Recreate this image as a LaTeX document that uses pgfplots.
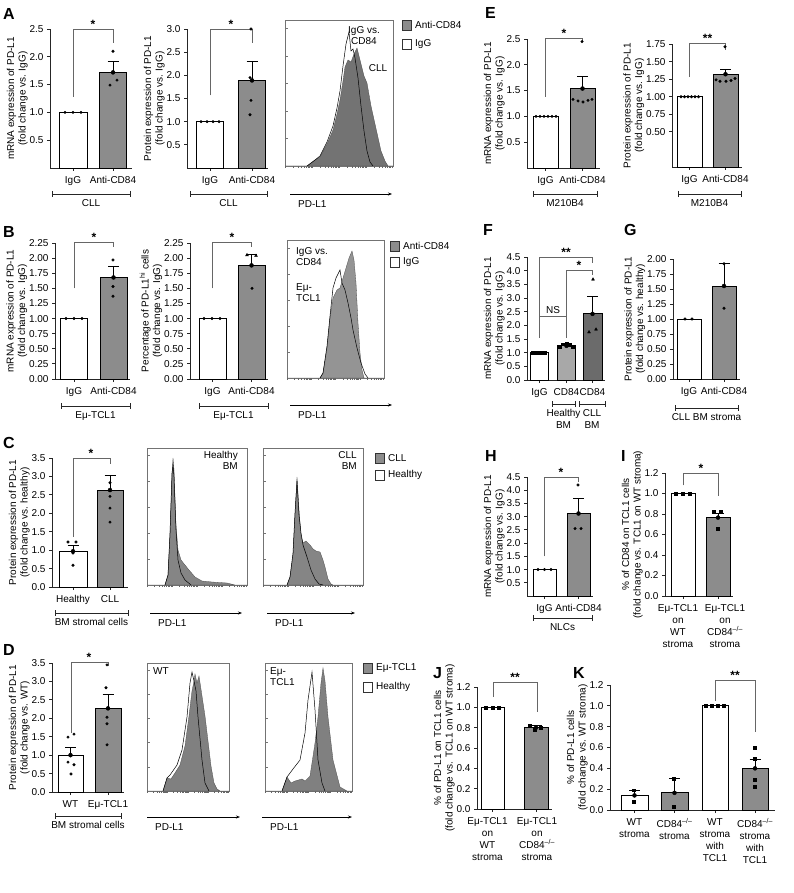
\documentclass[border=0pt]{standalone}
\usepackage{pgfplots}
\pgfplotsset{compat=1.18}
\usetikzlibrary{arrows.meta}
\usepackage{fontspec}
\setmainfont{Liberation Sans}
\newcommand{\fs}{\fontsize{10}{11.5}\selectfont}
\newcommand{\fsx}{\fontsize{10}{12}\selectfont}
\newcommand{\fl}{\bfseries\fontsize{16}{16}\selectfont}
\definecolor{barg}{gray}{0.55}
\definecolor{barl}{gray}{0.66}
\definecolor{bard}{gray}{0.42}
\definecolor{histA}{gray}{0.45}
\definecolor{histB}{gray}{0.58}
\definecolor{histC}{gray}{0.52}
\definecolor{histD}{gray}{0.50}
\tikzset{
  brk/.style={line width=0.6pt, black!60},
  star/.style={anchor=south, inner sep=0.5pt, font=\bfseries\fontsize{12}{12}\selectfont},
}
\pgfplotsset{
  prism/.style={
    scale only axis, clip=false, anchor=south west,
    axis x line*=bottom, axis y line*=left,
    axis line style={line width=0.8pt, black!85, -},
    tick style={line width=0.8pt, black!85},
    major tick length=3pt, tick align=outside,
    ymin=0,
    tick label style={font=\fs},
    label style={font=\fs},
    ylabel style={align=center},
    ylabel shift=-5pt,
    xticklabel style={align=center, yshift=-2pt, font=\fsx},
    scaled y ticks=false,
  },
  p1/.style={yticklabel style={/pgf/number format/.cd, fixed, fixed zerofill, precision=1, assume math mode=true}},
  p2/.style={yticklabel style={/pgf/number format/.cd, fixed, fixed zerofill, precision=2, assume math mode=true}},
  wbar/.style={ybar, fill=white, draw=black, line width=0.9pt},
  gbar/.style={ybar, fill=barg, draw=black, line width=0.9pt},
  eb/.style={only marks, mark=none, error bars/.cd, y dir=plus, y explicit,
     error bar style={line width=0.9pt, black},
     error mark options={rotate=90, mark size=5.5pt, line width=0.9pt, black}},
  pts/.style={only marks, mark=*, mark size=1.3pt, black},
  sqs/.style={only marks, mark=square*, mark size=1.4pt, black},
  tri/.style={only marks, mark=triangle*, mark size=1.7pt, black},
}
\newcommand{\histo}[7]{%
  \begin{axis}[scale only axis, at={(#1pt,-#2pt)}, anchor=north west, width=#3pt, height=#4pt,
     xmin=0, xmax=#3, ymin=0, ymax=#4, xtick=\empty, ytick=\empty,
     axis line style={black!55, line width=0.6pt}]
    \addplot[fill=#5, draw=black!70, line width=0.3pt] coordinates {#6} \closedcycle;
    \addplot[draw=black, line width=0.5pt, mark=none] coordinates {#7};
  \end{axis}
  \foreach \k in {0,...,5} {\draw[black!55, line width=0.6pt] ({#1pt},{-#2pt-#4pt+\k*#4pt/5.3}) -- ++(3pt,0);}
  \foreach \d in {0,1,2,3} {\foreach \f in {0,0.301,0.477,0.602,0.699,0.778,0.845,0.903,0.954} {\draw[black!60, line width=0.5pt] ({#1pt+(\d+\f)*#3pt/4},{-#2pt-#4pt}) -- ++(0,-2.2pt);}}
}
\newcommand{\cat}[4]{%
  \draw[line width=0.7pt, black!85] (#1,-#3) -- (#2,-#3) (#1,-#3+3) -- (#1,-#3-3) (#2,-#3+3) -- (#2,-#3-3);
  \node[font=\fsx, anchor=north, inner sep=0pt, align=center] at ({(#1+#2)/2},-#3-5) {#4};}
\newcommand{\pdl}[3]{%
  \draw[-{Stealth[length=4pt,width=3pt]}, line width=0.6pt] (#1,-#3) -- (#2,-#3);
  \node[font=\fs, anchor=north west, inner sep=0pt] at (#1+8,-#3-6) {PD-L1};}
\newcommand{\legsq}[4]{%
  \draw[black!80, line width=0.6pt, fill=#3] (#1,-#2) rectangle (#1+9,-#2-10);
  \node[font=\fs, anchor=west, inner sep=0pt] at (#1+13,-#2-5) {#4};}
\begin{document}
\begin{tikzpicture}[x=1pt,y=1pt]
\path[use as bounding box] (0,0) rectangle (793,-893);
% panel letters
\node[font=\fl, anchor=west, inner sep=0pt] at (3,-14) {A};
\node[font=\fl, anchor=west, inner sep=0pt] at (485,-13) {E};
\node[font=\fl, anchor=west, inner sep=0pt] at (3,-232) {B};
\node[font=\fl, anchor=west, inner sep=0pt] at (483,-230) {F};
\node[font=\fl, anchor=west, inner sep=0pt] at (624,-230) {G};
\node[font=\fl, anchor=west, inner sep=0pt] at (3,-443) {C};
\node[font=\fl, anchor=west, inner sep=0pt] at (485,-456) {H};
\node[font=\fl, anchor=west, inner sep=0pt] at (621,-456) {I};
\node[font=\fl, anchor=west, inner sep=0pt] at (3,-650) {D};
\node[font=\fl, anchor=west, inner sep=0pt] at (433,-673) {J};
\node[font=\fl, anchor=west, inner sep=0pt] at (573,-673) {K};

% ---------- A1
\begin{axis}[prism,p1, at={(50pt,-168pt)}, width=82pt, height=139pt, xmin=50, xmax=132, ymax=2.5,
  ytick={0.5,1,1.5,2,2.5}, xtick={73,113}, xticklabels={IgG,Anti-CD84},
  ylabel={mRNA expression of PD-L1\\(fold change vs. IgG)}]
\addplot[wbar, bar width=28] coordinates {(73,1)};
\addplot[gbar, bar width=27] coordinates {(113,1.72)};
\addplot[eb] coordinates {(113,1.72) +- (0,0.19)};
\addplot[pts] coordinates {(65,1) (73,1) (81,1) (113,2.10) (117,1.58) (110,1.49)};
\draw[brk] (axis cs:73,1.28) -- (axis cs:73,2.5) -- (axis cs:113,2.5) -- (axis cs:113,2.25);
\node[star] at (axis cs:93,2.5) {*};
\end{axis}
% ---------- A2
\begin{axis}[prism,p1, at={(187pt,-168pt)}, width=81pt, height=139pt, xmin=187, xmax=268, ymax=3.0,
  ytick={0.5,1,1.5,2,2.5,3}, xtick={210,252}, xticklabels={IgG,Anti-CD84},
  ylabel={Protein expression of PD-L1\\(fold change vs. IgG)}]
\addplot[wbar, bar width=27] coordinates {(210,1)};
\addplot[gbar, bar width=27] coordinates {(252,1.89)};
\addplot[eb] coordinates {(252,1.89) +- (0,0.40)};
\addplot[pts] coordinates {(201,1) (207,1) (213,1) (219,1) (251,3.0) (250,1.95) (251,1.46) (250,1.15)};
\draw[brk] (axis cs:210,1.57) -- (axis cs:210,3.0) -- (axis cs:252,3.0) -- (axis cs:252,2.7);
\node[star] at (axis cs:231,3.0) {*};
\end{axis}
\cat{52}{130}{194}{CLL}
\cat{190}{267}{194}{CLL}
% ---------- A3 histogram
\histo{285}{20}{108}{146}{histA}
 {(0,0) (22,0) (30,6) (35,9) (42,22) (48,36) (52,52) (55,66) (58,85) (60,99) (63,106) (66,104) (69,112) (72,118) (75,106) (79,90) (82,83) (86,60) (92,33) (96,15) (100,5) (103,0) (108,0)}
 {(22,0) (30,6) (35,10) (42,24) (48,40) (52,58) (55,75) (58,100) (61,122) (64,134) (66,115) (68,117) (70,108) (73,88) (76,60) (79,35) (82,15) (85,4) (88,0)}
\node[font=\fs, align=center, anchor=north, inner sep=0pt] at (364,-26) {IgG vs.\\CD84};
\node[font=\fs, inner sep=0pt] at (378,-68) {CLL};
\pdl{290}{392}{194}
\legsq{402}{20}{barg}{Anti-CD84}
\legsq{402}{39}{white}{IgG}

% ---------- E1
\begin{axis}[prism,p1, at={(527pt,-168pt)}, width=73pt, height=129pt, xmin=527, xmax=600, ymax=2.5,
  ytick={0.5,1,1.5,2,2.5}, xtick={545.5,582.5}, xticklabels={IgG,Anti-CD84},
  ylabel={mRNA expression of PD-L1\\(fold change vs. IgG)}]
\addplot[wbar, bar width=25] coordinates {(545.5,1)};
\addplot[gbar, bar width=25] coordinates {(582.5,1.54)};
\addplot[eb] coordinates {(582.5,1.54) +- (0,0.23)};
\addplot[pts] coordinates {(536,1) (540,1) (544,1) (548,1) (552,1) (556,1) (582,2.45) (573,1.33) (578,1.30) (583,1.28) (588,1.31) (592,1.33)};
\draw[brk] (axis cs:545.5,1.38) -- (axis cs:545.5,2.52) -- (axis cs:582.5,2.52) -- (axis cs:582.5,2.46);
\node[star] at (axis cs:564,2.52) {*};
\end{axis}
% ---------- E2
\begin{axis}[prism,p2, at={(672pt,-167pt)}, width=70pt, height=123pt, xmin=672, xmax=742, ymax=1.75,
  ytick={0.5,0.75,1,1.25,1.5,1.75}, xtick={689.5,725.5}, xticklabels={IgG,Anti-CD84},
  ylabel={Protein expression of PD-L1\\(fold change vs. IgG)}]
\addplot[wbar, bar width=25] coordinates {(689.5,1)};
\addplot[gbar, bar width=25] coordinates {(725.5,1.32)};
\addplot[eb] coordinates {(725.5,1.32) +- (0,0.07)};
\addplot[pts] coordinates {(681,1) (684.5,1) (688,1) (691.5,1) (695,1) (698.5,1) (725,1.71) (716,1.24) (720,1.22) (726,1.22) (731,1.23) (735,1.26)};
\draw[brk] (axis cs:689.5,1.28) -- (axis cs:689.5,1.76) -- (axis cs:725.5,1.76) -- (axis cs:725.5,1.66);
\node[star] at (axis cs:707.5,1.76) {**};
\end{axis}
\cat{533}{597}{194}{M210B4}
\cat{678}{741}{194}{M210B4}

% ---------- B1
\begin{axis}[prism,p2, at={(55pt,-379pt)}, width=75pt, height=136pt, xmin=55, xmax=130, ymax=2.25,
  ytick={0,0.25,0.5,0.75,1,1.25,1.5,1.75,2,2.25}, xtick={74,113.5}, xticklabels={IgG,Anti-CD84},
  ylabel={mRNA expression of PD-L1\\(fold change vs. IgG)}]
\addplot[wbar, bar width=27] coordinates {(74,1)};
\addplot[gbar, bar width=27] coordinates {(113.5,1.68)};
\addplot[eb] coordinates {(113.5,1.68) +- (0,0.18)};
\addplot[pts] coordinates {(66,1) (74,1) (82,1) (113,1.97) (113,1.53) (113,1.37)};
\draw[brk] (axis cs:74,1.5) -- (axis cs:74,2.26) -- (axis cs:113.5,2.26) -- (axis cs:113.5,2.18);
\node[star] at (axis cs:94,2.26) {*};
\end{axis}
% ---------- B2
\begin{axis}[prism,p2, at={(190pt,-379pt)}, width=78pt, height=136pt, xmin=190, xmax=268, ymax=2.25,
  ytick={0,0.25,0.5,0.75,1,1.25,1.5,1.75,2,2.25}, xtick={212.5,251.5}, xticklabels={IgG,Anti-CD84},
  ylabel={Percentage of PD-L1\textsuperscript{hi} cells\\(fold change vs. IgG)}]
\addplot[wbar, bar width=27] coordinates {(212.5,1)};
\addplot[gbar, bar width=27] coordinates {(251.5,1.88)};
\addplot[eb] coordinates {(251.5,1.88) +- (0,0.18)};
\addplot[pts] coordinates {(204,1) (212,1) (220,1) (252,1.50)};
\addplot[tri] coordinates {(247,2.05) (256,2.04)};
\draw[brk] (axis cs:212.5,1.5) -- (axis cs:212.5,2.26) -- (axis cs:251.5,2.26) -- (axis cs:251.5,2.18);
\node[star] at (axis cs:232,2.26) {*};
\end{axis}
\cat{61}{130}{406}{Eμ-TCL1}
\cat{199}{268}{406}{Eμ-TCL1}
% ---------- B3 histogram
\histo{287}{240}{97}{138}{histB}
 {(0,0) (33,0) (36,5) (40,30) (43,60) (46,80) (50,88) (53,90) (56,100) (59,110) (62,120) (65,127) (67,118) (69,95) (71,55) (73,25) (75,8) (77,0) (97,0)}
 {(33,0) (36,5) (40,32) (43,62) (46,90) (49,100) (51,104) (53,108) (55,95) (58,88) (61,75) (64,60) (66,48) (70,30) (74,15) (78,4) (81,0)}
\node[font=\fs, align=left, anchor=north west, inner sep=0pt] at (296,-247) {IgG vs.\\CD84};
\node[font=\fs, align=left, anchor=north west, inner sep=0pt] at (296,-283) {Eμ-\\TCL1};
\pdl{290}{392}{405}
\legsq{390}{241}{barg}{Anti-CD84}
\legsq{390}{257}{white}{IgG}

% ---------- F
\begin{axis}[prism,p1, at={(527pt,-380pt)}, width=78pt, height=123pt, xmin=527, xmax=605, ymax=4.5,
  ytick={0,0.5,1,1.5,2,2.5,3,3.5,4,4.5}, xtick={539.5,566.5,592.5}, xticklabels={IgG,CD84,CD84},
  ylabel={mRNA expression of PD-L1\\(fold change vs. IgG)}]
\addplot[wbar, bar width=18] coordinates {(539.5,1)};
\addplot[ybar, fill=barl, draw=black, line width=0.9pt, bar width=18] coordinates {(566.5,1.25)};
\addplot[ybar, fill=bard, draw=black, line width=0.9pt, bar width=19] coordinates {(592.5,2.42)};
\addplot[eb] coordinates {(566.5,1.25) +- (0,0.04) (592.5,2.42) +- (0,0.63)};
\addplot[sqs] coordinates {(533,1) (536,1) (539,1) (542,1) (545,1) (560,1.22) (563,1.31) (567,1.33) (570,1.28) (573,1.22)};
\addplot[tri] coordinates {(593,3.68) (589,1.75) (596,1.85)};
\draw[brk] (axis cs:539.5,1.55) -- (axis cs:539.5,4.5) -- (axis cs:592.5,4.5) -- (axis cs:592.5,4.28);
\draw[brk] (axis cs:566.5,1.55) -- (axis cs:566.5,4.0) -- (axis cs:592.5,4.0) -- (axis cs:592.5,3.83);
\draw[brk] (axis cs:539.5,2.34) -- (axis cs:566.5,2.34);
\node[star] at (axis cs:566,4.5) {**};
\node[star] at (axis cs:579,4.0) {*};
\node[font=\fs, anchor=south, inner sep=2pt] at (axis cs:553,2.34) {NS};
\end{axis}
\cat{552}{575}{404}{Healthy\\BM}
\cat{579}{605}{404}{CLL\\BM}
% ---------- G
\begin{axis}[prism,p2, at={(673pt,-379pt)}, width=67pt, height=120pt, xmin=673, xmax=740, ymax=2.0,
  ytick={0,0.25,0.5,0.75,1,1.25,1.5,1.75,2}, xtick={689,724}, xticklabels={IgG,Anti-CD84},
  ylabel={Protein expression of PD-L1\\(fold change vs. healthy)}]
\addplot[wbar, bar width=24] coordinates {(689,1)};
\addplot[gbar, bar width=24] coordinates {(724,1.55)};
\addplot[eb] coordinates {(724,1.55) +- (0,0.37)};
\addplot[pts] coordinates {(685,1) (692,1) (724,1.92) (724,1.18)};
\end{axis}
\cat{675}{738}{408}{CLL BM stroma}

% ---------- C
\begin{axis}[prism,p1, at={(52pt,-587pt)}, width=76pt, height=129pt, xmin=52, xmax=128, ymax=3.5,
  ytick={0,0.5,1,1.5,2,2.5,3,3.5}, xtick={73,110}, xticklabels={Healthy,CLL},
  ylabel={Protein expression of PD-L1\\(fold change vs. healthy)}]
\addplot[wbar, bar width=28] coordinates {(73,0.97)};
\addplot[gbar, bar width=26] coordinates {(110,2.63)};
\addplot[eb] coordinates {(73,0.97) +- (0,0.15) (110,2.63) +- (0,0.40)};
\addplot[pts] coordinates {(68,1.22) (76,1.22) (73,0.92) (73,0.59) (110,2.83) (110,2.46) (110,2.14) (110,1.76)};
\draw[brk] (axis cs:73,1.35) -- (axis cs:73,3.5) -- (axis cs:110,3.5) -- (axis cs:110,3.35);
\node[star] at (axis cs:91,3.5) {*};
\end{axis}
\cat{55}{128}{613}{BM stromal cells}
\histo{147}{448}{100}{137}{histC}
 {(0,0) (18,0) (21,10) (23,50) (25,110) (26,127) (27,115) (29,60) (31,35) (34,25) (38,20) (42,15) (48,8) (55,4) (65,3) (80,2) (88,0) (100,0)}
 {(18,0) (21,10) (23,52) (25,112) (26,120) (27,108) (29,55) (31,25) (34,12) (38,5) (44,0)}
\node[font=\fs, align=right, anchor=north east, inner sep=0pt] at (238,-451) {Healthy\\BM};
\histo{263}{448}{100}{137}{histC}
 {(0,0) (24,0) (27,8) (30,30) (32,70) (34,108) (36,75) (38,50) (40,42) (43,44) (47,40) (50,36) (53,34) (57,33) (60,25) (62,18) (65,6) (68,1) (70,0) (100,0)}
 {(24,0) (27,8) (30,32) (32,72) (34,104) (36,70) (38,52) (40,40) (44,28) (48,15) (52,6) (56,1) (60,0)}
\node[font=\fs, align=right, anchor=north east, inner sep=0pt] at (357,-451) {CLL\\BM};
\pdl{150}{242}{613}
\pdl{267}{355}{613}
\legsq{375}{453}{barg}{CLL}
\legsq{375}{470}{white}{Healthy}

% ---------- D
\begin{axis}[prism,p1, at={(52pt,-792pt)}, width=72pt, height=129pt, xmin=52, xmax=124, ymax=3.5,
  ytick={0,0.5,1,1.5,2,2.5,3,3.5}, xtick={70.5,108}, xticklabels={WT,Eμ-TCL1},
  ylabel={Protein expression of PD-L1\\(fold change vs. WT)}]
\addplot[wbar, bar width=25] coordinates {(70.5,1.0)};
\addplot[gbar, bar width=26] coordinates {(108,2.27)};
\addplot[eb] coordinates {(70.5,1.0) +- (0,0.21) (108,2.27) +- (0,0.38)};
\addplot[pts] coordinates {(68,1.49) (74,1.57) (68,0.81) (74,0.74) (71,0.49) (107,3.45) (106,2.83) (107,2.03) (107,1.85) (107,1.28)};
\draw[brk] (axis cs:71,1.6) -- (axis cs:71,3.52) -- (axis cs:108,3.52) -- (axis cs:108,3.42);
\node[star] at (axis cs:89,3.52) {*};
\end{axis}
\cat{55}{121}{816}{BM stromal cells}
\histo{147}{663}{82}{128}{histD}
 {(0,0) (16,0) (20,13) (24,12) (28,18) (33,26) (38,45) (42,75) (45,100) (47,110) (48,117) (50,108) (52,115) (55,95) (58,75) (61,50) (64,25) (67,8) (70,2) (73,0) (82,0)}
 {(16,0) (20,13) (23,16) (30,26) (35,41) (40,74) (43,108) (45,119) (47,110) (49,100) (51,74) (55,31) (58,8) (62,0)}
\node[font=\fs, anchor=north west, inner sep=0pt] at (153,-667) {WT};
\histo{265}{663}{87}{128}{histD}
 {(0,0) (17,0) (22,14) (26,8) (30,10) (37,12) (40,10) (45,15) (50,48) (53,74) (56,108) (58,123) (60,110) (63,74) (68,31) (75,4) (82,0) (87,0)}
 {(17,0) (22,14) (25,18) (28,22) (35,31) (40,58) (43,91) (47,119) (50,81) (53,31) (57,8) (60,0)}
\node[font=\fs, align=left, anchor=north west, inner sep=0pt] at (270,-667) {Eμ-\\TCL1};
\pdl{147}{240}{817}
\pdl{262}{352}{817}
\legsq{363}{663}{barg}{Eμ-TCL1}
\legsq{363}{682}{white}{Healthy}

% ---------- H
\begin{axis}[prism,p1, at={(527pt,-596pt)}, width=66pt, height=119pt, xmin=527, xmax=593, ymax=4.5,
  ytick={0.5,1,1.5,2,2.5,3,3.5,4,4.5}, xtick={544.5,578.5}, xticklabels={IgG,Anti-CD84},
  ylabel={mRNA expression of PD-L1\\(fold change vs. IgG)}]
\addplot[wbar, bar width=23] coordinates {(544.5,1)};
\addplot[gbar, bar width=23] coordinates {(578.5,3.12)};
\addplot[eb] coordinates {(578.5,3.12) +- (0,0.56)};
\addplot[pts] coordinates {(538,1) (544.5,1) (551,1) (578,4.2) (575,2.55) (581,2.55)};
\draw[brk] (axis cs:544.5,1.5) -- (axis cs:544.5,4.5) -- (axis cs:578.5,4.5) -- (axis cs:578.5,4.3);
\node[star] at (axis cs:561,4.5) {*};
\end{axis}
\cat{533}{592}{618}{NLCs}

% ---------- I
\begin{axis}[prism,p1, at={(665pt,-596pt)}, width=68pt, height=123pt, xmin=665, xmax=733, ymax=1.2,
  ytick={0,0.2,0.4,0.6,0.8,1.0,1.2}, xtick={683,718},
  xticklabel style={xshift={(\ticknum==0)?-5:7}},
  xticklabels={{Eμ-TCL1\\on\\WT\\stroma},{Eμ-TCL1\\on\\CD84\textsuperscript{–/–}\\stroma}},
  ylabel={\% of CD84 on TCL1 cells\\(fold change vs. TCL1 on WT stroma)}]
\addplot[wbar, bar width=24] coordinates {(683,1)};
\addplot[gbar, bar width=24] coordinates {(718,0.765)};
\addplot[eb] coordinates {(718,0.765) +- (0,0.04)};
\addplot[sqs] coordinates {(676,1) (683,1) (690,1) (714,0.82) (721,0.82) (718,0.66)};
\draw[brk] (axis cs:683,1.08) -- (axis cs:683,1.2) -- (axis cs:718,1.2) -- (axis cs:718,0.98);
\node[star] at (axis cs:701,1.2) {*};
\end{axis}

% ---------- J
\begin{axis}[prism,p1, at={(477pt,-809pt)}, width=75pt, height=122pt, xmin=477, xmax=552, ymax=1.2,
  ytick={0,0.2,0.4,0.6,0.8,1.0,1.2}, xtick={492.5,536},
  xticklabel style={xshift={(\ticknum==0)?-5:1}},
  xticklabels={{Eμ-TCL1\\on\\WT\\stroma},{Eμ-TCL1\\on\\CD84\textsuperscript{–/–}\\stroma}},
  ylabel={\% of PD-L1 on TCL1 cells\\(fold change vs. TCL1 on WT stroma)}]
\addplot[wbar, bar width=23] coordinates {(492.5,1)};
\addplot[gbar, bar width=24] coordinates {(536,0.80)};
\addplot[eb] coordinates {(536,0.80) +- (0,0.02)};
\addplot[sqs] coordinates {(486,1) (492.5,1) (499,1) (530,0.82) (535,0.78) (541,0.80)};
\draw[brk] (axis cs:493,1.1) -- (axis cs:493,1.25) -- (axis cs:537,1.25) -- (axis cs:537,0.95);
\node[star] at (axis cs:515,1.25) {**};
\end{axis}

% ---------- K
\begin{axis}[prism,p1, at={(610pt,-810pt)}, width=165pt, height=125pt, xmin=610, xmax=775, ymax=1.2,
  ytick={0,0.2,0.4,0.6,0.8,1.0,1.2}, xtick={634.5,674.5,715,755},
  xticklabels={{WT\\stroma},{CD84\textsuperscript{–/–}\\stroma},{WT\\stroma\\with\\TCL1},{CD84\textsuperscript{–/–}\\stroma\\with\\TCL1}},
  ylabel={\% of PD-L1 cells\\(fold change vs. WT stroma)}]
\addplot[wbar, bar width=27] coordinates {(634.5,0.14)};
\addplot[gbar, bar width=27] coordinates {(674.5,0.165)};
\addplot[wbar, bar width=26] coordinates {(715,1.0)};
\addplot[gbar, bar width=26] coordinates {(755,0.40)};
\addplot[eb] coordinates {(634.5,0.14) +- (0,0.05) (674.5,0.165) +- (0,0.135) (755,0.40) +- (0,0.09)};
\addplot[sqs] coordinates {(634,0.19) (634,0.08) (674,0.30) (674,0.03) (706,1) (712,1) (718,1) (724,1) (755,0.60) (755,0.49) (755,0.29) (755,0.22)};
\draw[brk] (axis cs:715,1.05) -- (axis cs:715,1.25) -- (axis cs:755,1.25) -- (axis cs:755,0.75);
\node[star] at (axis cs:735,1.25) {**};
\end{axis}
\end{tikzpicture}
\end{document}
